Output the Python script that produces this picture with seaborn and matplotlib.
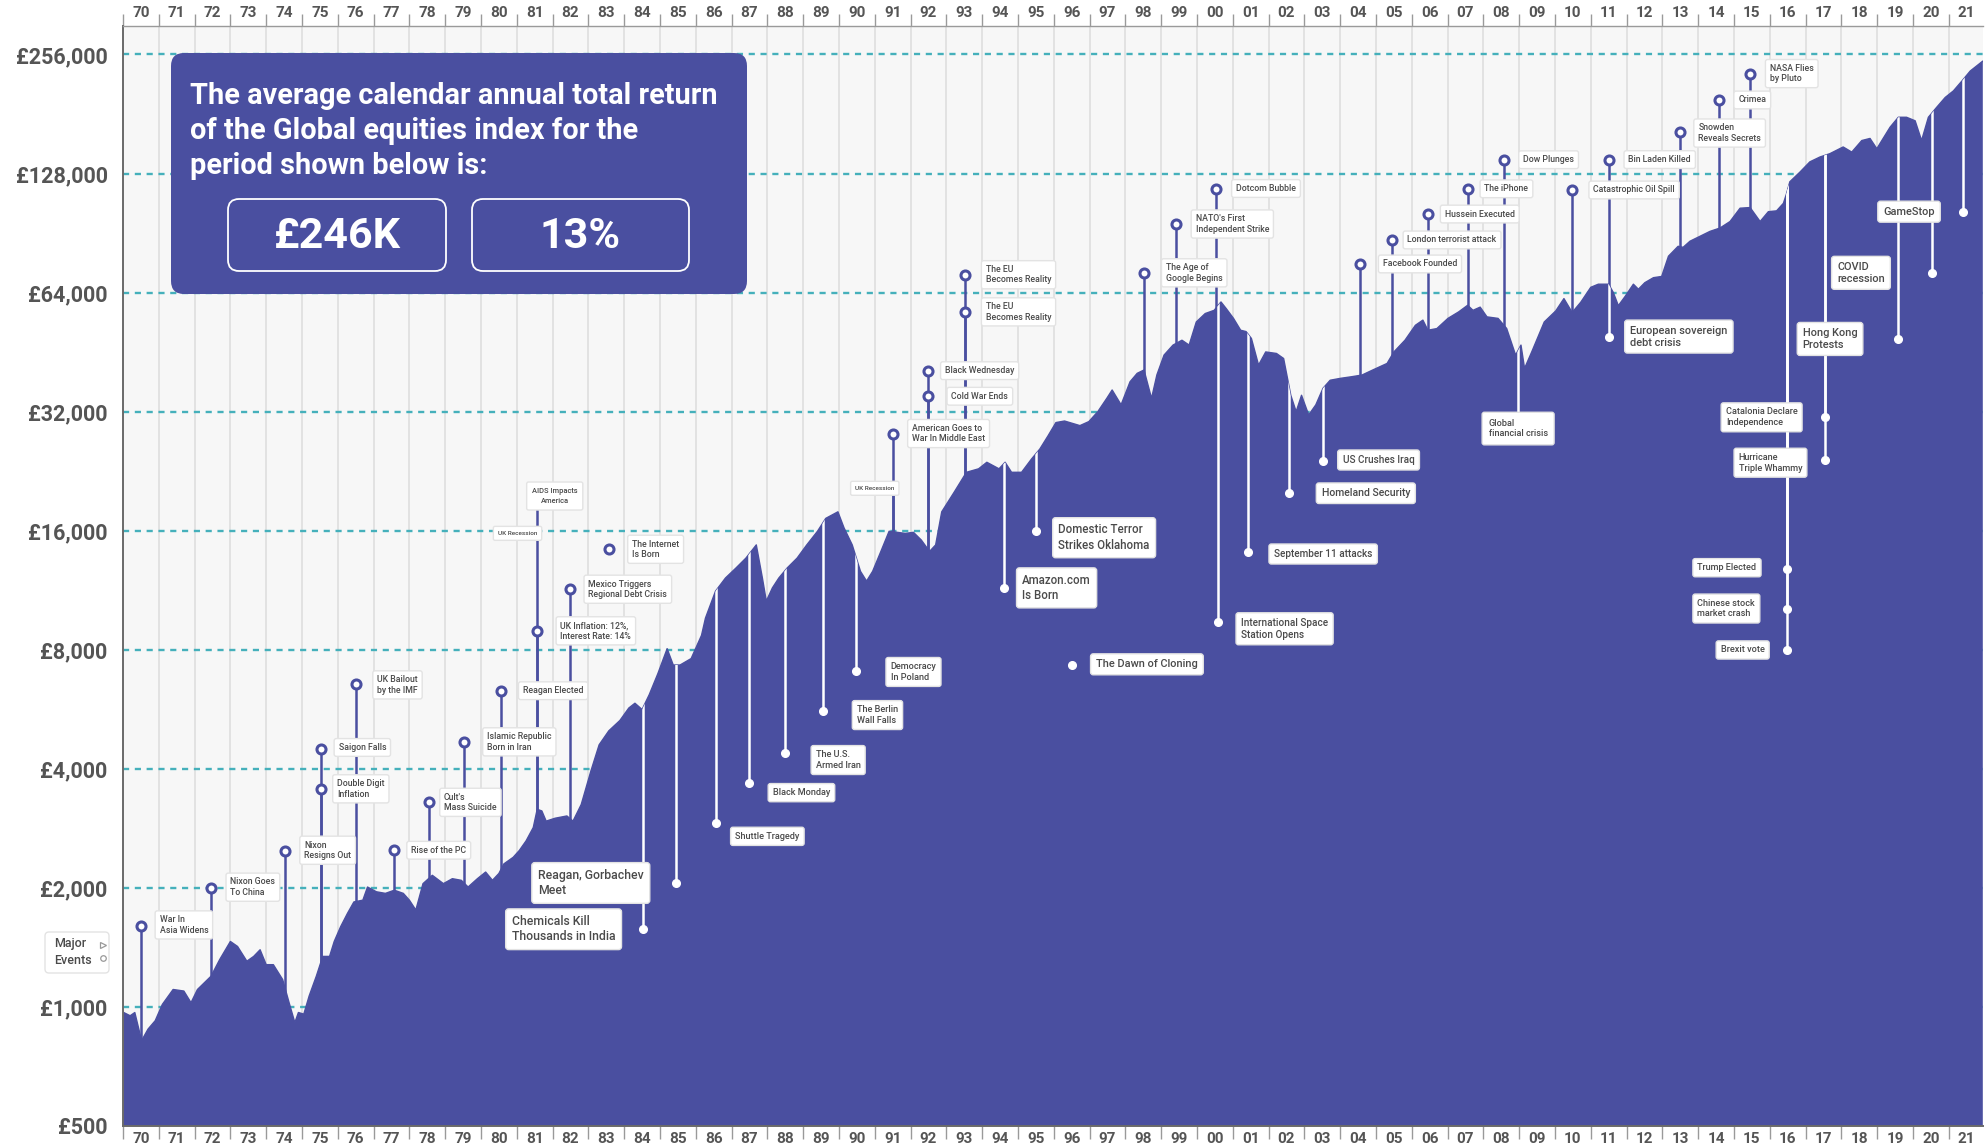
import numpy as np
import pandas as pd
import matplotlib
matplotlib.use("Agg")
import matplotlib.pyplot as plt
import seaborn as sns
from matplotlib.patches import FancyBboxPatch
from matplotlib.lines import Line2D
from matplotlib.ticker import FixedLocator, NullFormatter, FixedFormatter

# ---------------- data ----------------
years = [1970.00, 1970.20, 1970.33, 1970.52, 1970.70, 1970.90, 1971.10, 1971.40, 1971.70, 1971.90,
         1972.08, 1972.46, 1972.70, 1973.00, 1973.20, 1973.46, 1973.65, 1973.83, 1974.00, 1974.20,
         1974.46, 1974.64, 1974.80, 1974.90, 1975.05, 1975.20, 1975.40, 1975.58, 1975.77, 1975.90,
         1976.08, 1976.27, 1976.45, 1976.70, 1976.83, 1977.08, 1977.33, 1977.58, 1977.83, 1978.00,
         1978.18, 1978.38, 1978.64, 1978.95, 1979.20, 1979.45, 1979.64, 1979.90, 1980.13, 1980.32,
         1980.50, 1980.64, 1980.90, 1981.07, 1981.26, 1981.46, 1981.57, 1981.70, 1981.82, 1982.07,
         1982.40, 1982.57, 1982.80, 1983.07, 1983.30, 1983.57, 1983.88, 1984.13, 1984.30, 1984.50,
         1984.70, 1984.94, 1985.20, 1985.37, 1985.56, 1985.87, 1986.16, 1986.27, 1986.55, 1986.83,
         1987.12, 1987.40, 1987.69, 1987.86, 1987.97, 1988.14, 1988.32, 1988.55, 1988.83, 1989.10,
         1989.40, 1989.63, 1989.97, 1990.14, 1990.37, 1990.60, 1990.77, 1990.94, 1991.17, 1991.40,
         1991.63, 1991.85, 1992.08, 1992.30, 1992.53, 1992.70, 1992.87, 1993.22, 1993.56, 1993.90,
         1994.13, 1994.47, 1994.64, 1994.82, 1995.10, 1995.38, 1995.61, 1995.84, 1996.06, 1996.30,
         1996.73, 1996.98, 1997.23, 1997.48, 1997.63, 1997.88, 1998.13, 1998.33, 1998.52, 1998.73,
         1998.88, 1999.08, 1999.33, 1999.58, 1999.78, 1999.98, 2000.23, 2000.48, 2000.67, 2000.82,
         2001.02, 2001.22, 2001.37, 2001.52, 2001.72, 2001.92, 2002.22, 2002.42, 2002.62, 2002.77,
         2002.92, 2003.12, 2003.32, 2003.52, 2003.72, 2004.01, 2004.31, 2004.61, 2004.91, 2005.31,
         2005.50, 2005.81, 2006.10, 2006.31, 2006.45, 2006.70, 2007.01, 2007.31, 2007.56, 2007.71,
         2007.91, 2008.10, 2008.41, 2008.65, 2008.90, 2009.05, 2009.15, 2009.35, 2009.70, 2010.02,
         2010.25, 2010.48, 2010.72, 2011.00, 2011.21, 2011.50, 2011.63, 2011.77, 2011.96, 2012.19,
         2012.33, 2012.51, 2012.75, 2012.98, 2013.17, 2013.44, 2013.58, 2013.77, 2014.05, 2014.33,
         2014.61, 2014.89, 2015.17, 2015.45, 2015.73, 2015.96, 2016.19, 2016.38, 2016.47, 2016.56,
         2016.84, 2017.12, 2017.40, 2017.68, 2018.05, 2018.29, 2018.57, 2018.80, 2018.99, 2019.13,
         2019.36, 2019.59, 2019.82, 2020.06, 2020.24, 2020.43, 2020.66, 2020.90, 2021.13, 2021.37,
         2021.60, 2021.95]
values = [970, 950, 968, 822, 879, 923, 1015, 1107, 1097, 1025,
          1107, 1196, 1317, 1464, 1422, 1305, 1342, 1395, 1279, 1279,
          1173, 1025, 913, 968, 959, 1066, 1196, 1342, 1342, 1464,
          1596, 1724, 1843, 1862, 2010, 1955, 1937, 1973, 1937, 1862,
          1758, 2050, 2152, 2050, 2110, 2090, 2010, 2110, 2193, 2090,
          2175, 2300, 2390, 2486, 2630, 2842, 3160, 3130, 2950, 3000,
          3040, 2950, 3250, 3950, 4600, 4990, 5300, 5700, 5860, 5650,
          6160, 6960, 8050, 7320, 7320, 7600, 8700, 9620, 11250, 12150,
          12870, 13640, 14730, 12150, 10620, 11470, 12150, 12870, 13640, 14730,
          15950, 17190, 17860, 16270, 14730, 12630, 11930, 12630, 14180, 15950,
          15850, 15750, 15850, 15150, 14180, 14730, 17860, 20040, 22480, 22940,
          23830, 22940, 23830, 22480, 22480, 24300, 25740, 27800, 30030, 30300,
          29500, 30200, 32000, 34570, 36300, 33300, 38080, 40000, 40780, 34570,
          39640, 44480, 47140, 48500, 47140, 53930, 56650, 57720, 60600, 58250,
          55070, 51400, 51000, 49000, 41960, 45300, 44900, 43600, 35200, 32000,
          35200, 31390, 33300, 36660, 38420, 38850, 39200, 39600, 40780, 42370,
          45300, 48500, 52900, 54520, 51400, 51900, 55070, 57200, 59440, 57720,
          58800, 55560, 55070, 51930, 44480, 47140, 41170, 45300, 53930, 57500,
          61800, 57000, 60500, 66000, 67200, 67200, 64000, 59300, 62600, 67200,
          65270, 67800, 69800, 70300, 79100, 83800, 83300, 86300, 88800, 91400,
          93200, 96800, 104600, 105000, 96800, 102500, 103000, 107600, 114000, 122000,
          129000, 137000, 140900, 143700, 149400, 145000, 155100, 157000, 147900, 155100,
          167600, 177600, 177600, 174000, 155100, 177600, 188100, 199300, 207100, 219500,
          232500, 246300]

y_tick_values = [500, 1000, 2000, 4000, 8000, 16000, 32000, 64000, 128000, 256000]
y_tick_labels = ["£500", "£1,000", "£2,000", "£4,000", "£8,000", "£16,000",
                 "£32,000", "£64,000", "£128,000", "£256,000"]
year_ticks = list(range(1970, 2022))
year_labels = [f"{y % 100:02d}" for y in year_ticks]

headline = "The average calendar annual total return\nof the Global equities index for the\nperiod shown below is:"
final_value_label = "£246K"
avg_return_label = "13%"

# events above the curve (navy stem, open circle): label, year, value
above_labels = ["War In\nAsia Widens", "Nixon Goes\nTo China", "Nixon\nResigns Out",
                "Double Digit\nInflation", "Saigon Falls", "UK Bailout\nby the IMF",
                "Rise of the PC", "Cult's\nMass Suicide", "Islamic Republic\nBorn in Iran",
                "Reagan Elected", "UK Inflation: 12%,\nInterest Rate: 14%",
                "Mexico Triggers\nRegional Debt Crisis", "The Internet\nIs Born",
                "American Goes to\nWar In Middle East", "Black Wednesday", "Cold War Ends",
                "The EU\nBecomes Reality", "The EU\nBecomes Reality",
                "The Age of\nGoogle Begins", "NATO's First\nIndependent Strike", "Dotcom Bubble",
                "Facebook Founded", "London terrorist attack", "Hussein Executed", "The iPhone",
                "Dow Plunges", "Catastrophic Oil Spill", "Bin Laden Killed",
                "Snowden\nReveals Secrets", "Crimea", "NASA Flies\nby Pluto"]
above_years = [1970.50, 1972.47, 1974.53, 1975.54, 1975.54, 1976.52, 1977.58, 1978.54, 1979.52,
               1980.57, 1981.57, 1982.50, 1983.57, 1991.51, 1992.50, 1992.50, 1993.53, 1993.53,
               1998.51, 1999.42, 2000.52, 2004.54, 2005.46, 2006.44, 2007.56, 2008.58, 2010.48,
               2011.52, 2013.49, 2014.59, 2015.46]
above_values = [1606, 2000, 2480, 3549, 4500, 6553, 2490, 3291, 4680, 6303, 8932, 11380, 14360,
                28170, 40620, 35000, 71000, 57200, 71800, 95400, 117300, 75600, 86950, 101100,
                117100, 138700, 116300, 138800, 163200, 196400, 229000]

# events below the curve (white stem, white dot): label, year, value
below_labels = ["Reagan, Gorbachev\nMeet", "Chemicals Kill\nThousands in India", "Shuttle Tragedy",
                "Black Monday", "The U.S.\nArmed Iran", "The Berlin\nWall Falls",
                "Democracy\nIn Poland", "Amazon.com\nIs Born", "Domestic Terror\nStrikes Oklahoma",
                "The Dawn of Cloning", "International Space\nStation Opens",
                "September 11 attacks", "Homeland Security", "US Crushes Iraq",
                "European sovereign\ndebt crisis", "Brexit vote", "Chinese stock\nmarket crash",
                "Trump Elected", "Catalonia Declare\nIndependence", "Hurricane\nTriple Whammy",
                "Hong Kong\nProtests", "COVID\nrecession", "GameStop"]
below_years = [1985.44, 1984.53, 1986.56, 1987.48, 1988.49, 1989.56, 1990.47, 1994.62, 1995.50,
               1996.50, 2000.58, 2001.43, 2002.58, 2003.53, 2011.52, 2016.47, 2016.47, 2016.47,
               2017.54, 2017.54, 2019.57, 2020.52, 2021.39]
below_values = [2058, 1572, 2912, 3689, 4395, 5610, 7070, 11470, 16000, 7305, 9420, 14160, 19960,
                24000, 49540, 7990, 10140, 12800, 30960, 24150, 48860, 71800, 102500]

# stem-only tags (boxes sitting on a stem): label, stem year, value
tag_labels = ["AIDS Impacts\nAmerica", "UK Recession", "UK Recession", "Global\nfinancial crisis"]
tag_years = [1981.57, 1981.57, 1991.51, 2008.98]
tag_values = [19580, 15756, 20480, 29000]

# ---------------- layout (label text positions: year, value, fontsize) ----------------
above_text = [(1971.02, 1612, 6.3), (1973.00, 2008, 6.3), (1975.06, 2490, 6.3), (1975.98, 3560, 6.3),
              (1976.02, 4530, 6.3), (1977.10, 6520, 6.3), (1978.05, 2490, 6.3), (1978.97, 3291, 6.3),
              (1980.17, 4680, 6.3), (1981.17, 6303, 6.3), (1982.22, 8932, 6.3), (1983.00, 11380, 6.3),
              (1984.22, 14360, 6.3), (1992.04, 28170, 6.3), (1992.96, 40620, 6.3),
              (1993.14, 35000, 6.3), (1994.10, 71000, 6.3), (1994.10, 57200, 6.3),
              (1999.13, 71800, 6.3), (1999.96, 95400, 6.3), (2001.09, 117300, 6.3),
              (2005.19, 75600, 6.3), (2005.88, 86950, 6.3), (2006.92, 101100, 6.3),
              (2008.03, 117100, 6.3), (2009.11, 138700, 6.3), (2011.07, 116300, 6.3),
              (2012.05, 138800, 6.3), (2014.00, 162000, 6.3), (2015.12, 196400, 6.3),
              (2016.00, 229000, 6.3)]
above_has_stem = [True] * 12 + [False] + [True] * 18
below_text = [(1981.59, 2058, 8.8), (1980.86, 1572, 8.8), (1987.10, 2700, 6.6), (1988.15, 3482, 6.6),
              (1989.35, 4210, 6.6), (1990.50, 5470, 6.6), (1991.44, 7030, 6.6), (1995.12, 11470, 8.3),
              (1996.13, 15360, 8.3), (1997.18, 7350, 7.9), (2001.23, 9040, 7.2), (2002.15, 13970, 7.2),
              (2003.48, 19900, 7.6), (2004.07, 24150, 7.2), (2012.10, 49540, 7.9), (2014.63, 7990, 6.6),
              (2013.98, 10170, 6.6), (2013.98, 12900, 6.6), (2014.77, 30960, 6.6), (2015.13, 23770, 6.6),
              (2016.92, 48860, 7.9), (2017.88, 71800, 7.9), (2019.17, 102500, 7.9)]
below_has_stem = [True] * 9 + [False] + [True] * 13
tag_text = [(1982.06, 19580, 5.4), (1981.02, 15756, 4.6), (1991.00, 20480, 4.6), (2008.97, 29000, 6.6)]

# ---------------- style ----------------
NAVY = "#4a4fa0"
TEAL = "#45b0bb"
TXT = "#4a4a4a"
W, H = 1988, 1148

sns.set_theme(style="white")
plt.rcParams['font.family'] = ['Roboto', 'DejaVu Sans']

fig = plt.figure(figsize=(W / 100, H / 100), dpi=100)
fig.patch.set_facecolor("white")
ax_left, ax_right, ax_top, ax_bottom = 123, 1982.8, 26, 1126
ax = fig.add_axes([ax_left / W, (H - ax_bottom) / H, (ax_right - ax_left) / W, (ax_bottom - ax_top) / H])
ax.set_yscale("log", base=2)
ax.set_ylim(500, 500 * 2 ** ((ax_bottom - ax_top) / 119.06))
ax.set_xlim(1970, 2021.95)
ax.set_facecolor("#f7f7f7")

for yr in year_ticks[1:]:
    ax.axvline(yr, color="#dcdcdc", lw=1.1, zorder=0)
for v in y_tick_values[1:]:
    ax.axhline(v, color=TEAL, lw=1.7, ls=(0, (2.6, 2.4)), zorder=0.5)

# navy stems (behind the area)
for x, y, st in zip(above_years, above_values, above_has_stem):
    if st:
        ax.plot([x, x], [300, y], color=NAVY, lw=1.8, zorder=1, solid_capstyle="butt")
ax.plot([tag_years[0], tag_years[0]], [300, tag_values[0]], color=NAVY, lw=1.8, zorder=1)
ax.plot([tag_years[2], tag_years[2]], [300, tag_values[2]], color=NAVY, lw=1.8, zorder=1)

df = pd.DataFrame({"year": years, "value": values})
area = ax.fill_between(df["year"], df["value"], 100, color=NAVY, lw=0, zorder=2)
sns.lineplot(data=df, x="year", y="value", ax=ax, color=NAVY, lw=1.0, zorder=2.1)
clip = area.get_paths()[0]

# white stems (inside the area only)
for x, y, st in zip(below_years, below_values, below_has_stem):
    if st:
        ln, = ax.plot([x, x], [y, 1e7], color="white", lw=1.8, zorder=3)
        ln.set_clip_path(clip, ax.transData)
ln, = ax.plot([tag_years[3], tag_years[3]], [tag_values[3], 1e7], color="white", lw=1.8, zorder=3)
ln.set_clip_path(clip, ax.transData)

# markers
ax.plot(above_years, above_values, "o", ms=6.5, mfc="white", mec=NAVY, mew=2.2, zorder=4, ls="none")
ax.plot(below_years, below_values, "o", ms=5.5, color="white", zorder=4, ls="none")

box = dict(boxstyle="round,pad=0.5,rounding_size=0.25", fc="white", ec="#e3e3e3", lw=1.0)
for lab, (tx, ty, fs) in zip(above_labels, above_text):
    ax.text(tx, ty, lab, ha="left", va="center", fontsize=fs, color=TXT, fontweight="medium",
            bbox=box, zorder=5, linespacing=1.2)
for lab, (tx, ty, fs) in zip(below_labels, below_text):
    ax.text(tx, ty, lab, ha="left", va="center", fontsize=fs, color=TXT, fontweight="medium",
            bbox=box, zorder=5, linespacing=1.25)
for lab, (tx, ty, fs) in zip(tag_labels, tag_text):
    ax.text(tx, ty, lab, ha="center", va="center", fontsize=fs, color=TXT, fontweight="medium",
            bbox=dict(boxstyle="round,pad=0.7,rounding_size=0.25", fc="white", ec="#e3e3e3", lw=1.0),
            zorder=5, linespacing=1.25, multialignment="left" if "Global" in lab else "center")

# axes ticks
ax.set_yticks(y_tick_values)
ax.set_yticklabels(y_tick_labels)
ax.yaxis.set_minor_locator(FixedLocator([]))
ax.tick_params(axis="y", which="both", length=0, pad=11, labelsize=15.5, labelcolor="#555555")
for t in ax.get_yticklabels():
    t.set_fontweight("bold")

ax.xaxis.set_major_locator(FixedLocator(year_ticks + [2022]))
ax.xaxis.set_major_formatter(NullFormatter())
ax.xaxis.set_minor_locator(FixedLocator([y + 0.5 for y in year_ticks]))
ax.xaxis.set_minor_formatter(FixedFormatter(year_labels))
ax.tick_params(axis="x", which="major", length=9, width=1, color="#9a9a9a",
               top=True, bottom=True, direction="out")
ax.tick_params(axis="x", which="minor", length=0, pad=4, labelsize=11, labelcolor="#555555",
               top=True, bottom=True, labeltop=True, labelbottom=True)
for t in ax.xaxis.get_minorticklabels():
    t.set_fontweight("bold")
ax.set_xlabel("")
ax.set_ylabel("")

for side in ["left", "bottom", "right"]:
    ax.spines[side].set_color("#6a6a6a")
    ax.spines[side].set_linewidth(1.4)
ax.spines["top"].set_color("#9a9a9a")
ax.spines["top"].set_linewidth(1.0)
ax.spines["right"].set_visible(False)

# ---------------- info box (pixel layout) ----------------
def px(x, y):
    return (x / 100, (H - y) / 100)

tr = fig.dpi_scale_trans
x0, y0 = px(171, 294)
fig.add_artist(FancyBboxPatch((x0, y0), (747 - 171) / 100, (294 - 53) / 100,
                              boxstyle="round,pad=0,rounding_size=0.13", fc=NAVY, ec="none",
                              transform=tr, zorder=10))
fig.text(*px(190, 131), headline, transform=tr, ha="left", va="center", color="white",
         fontsize=20.8, fontweight="bold", linespacing=1.32, zorder=11)
for (bx0, bx1), lab in zip([(228, 446), (472, 689)], [final_value_label, avg_return_label]):
    fig.add_artist(FancyBboxPatch(px(bx0, 271), (bx1 - bx0) / 100, (271 - 199) / 100,
                                  boxstyle="round,pad=0,rounding_size=0.11", fc="none", ec="white",
                                  lw=1.3, transform=tr, zorder=11))
    fig.text(*px((bx0 + bx1) / 2, 236), lab, transform=tr, ha="center", va="center", color="white",
             fontsize=31, fontweight="bold", zorder=12)

# Major events legend box
fig.add_artist(FancyBboxPatch(px(45, 973), (109 - 45) / 100, (973 - 932) / 100,
                              boxstyle="round,pad=0,rounding_size=0.04", fc="white", ec="#e3e3e3",
                              lw=1.0, transform=tr, zorder=10))
fig.text(*px(54, 952), "Major\nEvents", transform=tr, ha="left", va="center", color=TXT,
         fontsize=9, fontweight="medium", linespacing=1.3, zorder=11)
fig.add_artist(Line2D([103 / 100], [(H - 945) / 100], marker=">", ms=5, mfc="white", mec="#999999",
                      mew=0.9, transform=tr, zorder=11))
fig.add_artist(Line2D([103 / 100], [(H - 958) / 100], marker="o", ms=4, mfc="white", mec="#999999",
                      mew=0.9, transform=tr, zorder=11))

fig.savefig("out.png", dpi=100)
